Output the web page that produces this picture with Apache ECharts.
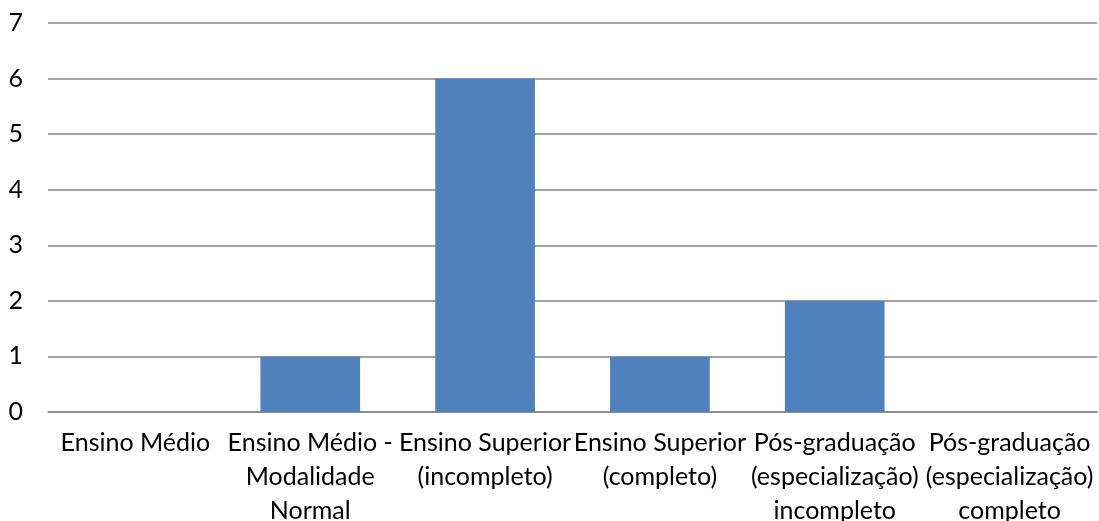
<!DOCTYPE html>
<html>
<head>
<meta charset="utf-8">
<script src="https://cdn.jsdelivr.net/npm/echarts@6/dist/echarts.min.js"></script>
<style>
  html, body { margin: 0; padding: 0; background: #fff; }
  #chart { width: 1099px; height: 521px; }
</style>
</head>
<body>
<div id="chart"></div>
<script>
const categories = [
  'Ensino Médio',
  'Ensino Médio -\nModalidade\nNormal',
  'Ensino Superior\n(incompleto)',
  'Ensino Superior\n(completo)',
  'Pós-graduação\n(especialização)\nincompleto',
  'Pós-graduação\n(especialização)\ncompleto'
]
const values = [0, 1, 6, 1, 2, 0]

const chart = echarts.init(document.getElementById('chart'))
chart.setOption({
  animation: false,
  grid: { left: 48, right: 2, top: 23, bottom: 109, containLabel: false, outerBoundsMode: 'none' },
  xAxis: {
    type: 'category',
    data: categories,
    axisLine: { show: true, lineStyle: { color: '#868686', width: 1.5 } },
    axisTick: { show: false },
    axisLabel: {
      interval: 0,
      color: '#000',
      fontFamily: 'Lato',
      fontSize: 25,
      lineHeight: 34,
      margin: 14
    }
  },
  yAxis: {
    type: 'value',
    min: 0,
    max: 7,
    interval: 1,
    axisLine: { show: false },
    axisTick: { show: false },
    axisLabel: {
      color: '#000',
      fontFamily: 'Lato',
      fontSize: 25,
      margin: 25
    },
    splitLine: { lineStyle: { color: '#868686', width: 1.5 } }
  },
  series: [{
    type: 'bar',
    data: values,
    barWidth: '57%',
    itemStyle: { color: '#4F81BD' }
  }]
})
</script>
</body>
</html>
